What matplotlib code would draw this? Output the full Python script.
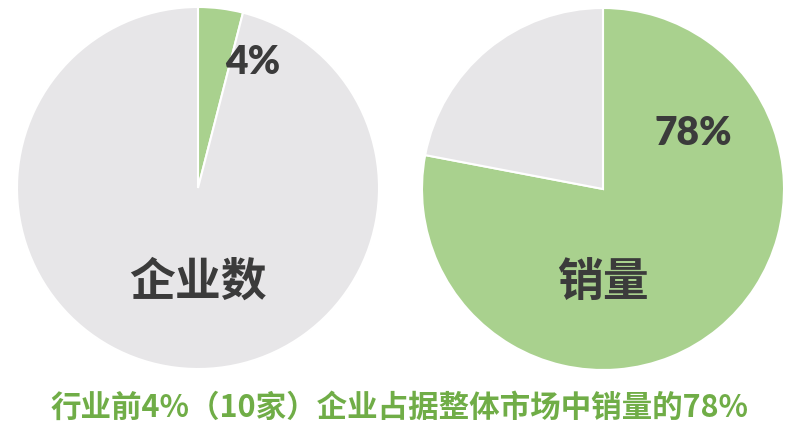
import matplotlib
matplotlib.use('Agg')
import matplotlib.pyplot as plt

plt.rcParams['font.family'] = ['Noto Sans CJK SC', 'DejaVu Sans']

# data
titles = ['企业数', '销量']
top_share = [4, 78]          # % held by the top 10 companies
pct_labels = ['4%', '78%']
caption = '行业前4%（10家）企业占据整体市场中销量的78%'

GREEN = '#a9d18e'
GRAY = '#e7e6e8'
DARK = '#3b3b3b'
CAPTION = '#70ad47'

W, H = 800, 427
fig = plt.figure(figsize=(W / 100, H / 100), dpi=100)

# pie centres / radius in pixels
centres = [(198, 189), (603, 190)]
R = 181
pct_pos = [(0.30, 0.70), (0.50, 0.31)]   # label pos in pie units

for i, (cx, cy) in enumerate(centres):
  ax = fig.add_axes([(cx - R) / W, (H - cy - R) / H, 2 * R / W, 2 * R / H])
  vals = [top_share[i], 100 - top_share[i]]
  ax.pie(vals, colors=[GREEN, GRAY], startangle=90, counterclock=False,
         radius=1, wedgeprops=dict(edgecolor='white', linewidth=1.5))
  ax.set_xlim(-1, 1)
  ax.set_ylim(-1, 1)
  ax.set_aspect('auto')
  ax.axis('off')
  px, py = pct_pos[i]
  ax.text(px, py, pct_labels[i], ha='center', va='center', fontsize=28,
          fontweight='heavy', color=DARK, family=['Lato', 'DejaVu Sans'])
  ax.text(0, -0.52, titles[i], ha='center', va='center', fontsize=33,
          fontweight='bold', color=DARK)

fig.text(0.5, 1 - 408 / H, caption, ha='center', va='center', fontsize=22,
         fontweight='bold', color=CAPTION)

fig.savefig('out.png', dpi=100)
